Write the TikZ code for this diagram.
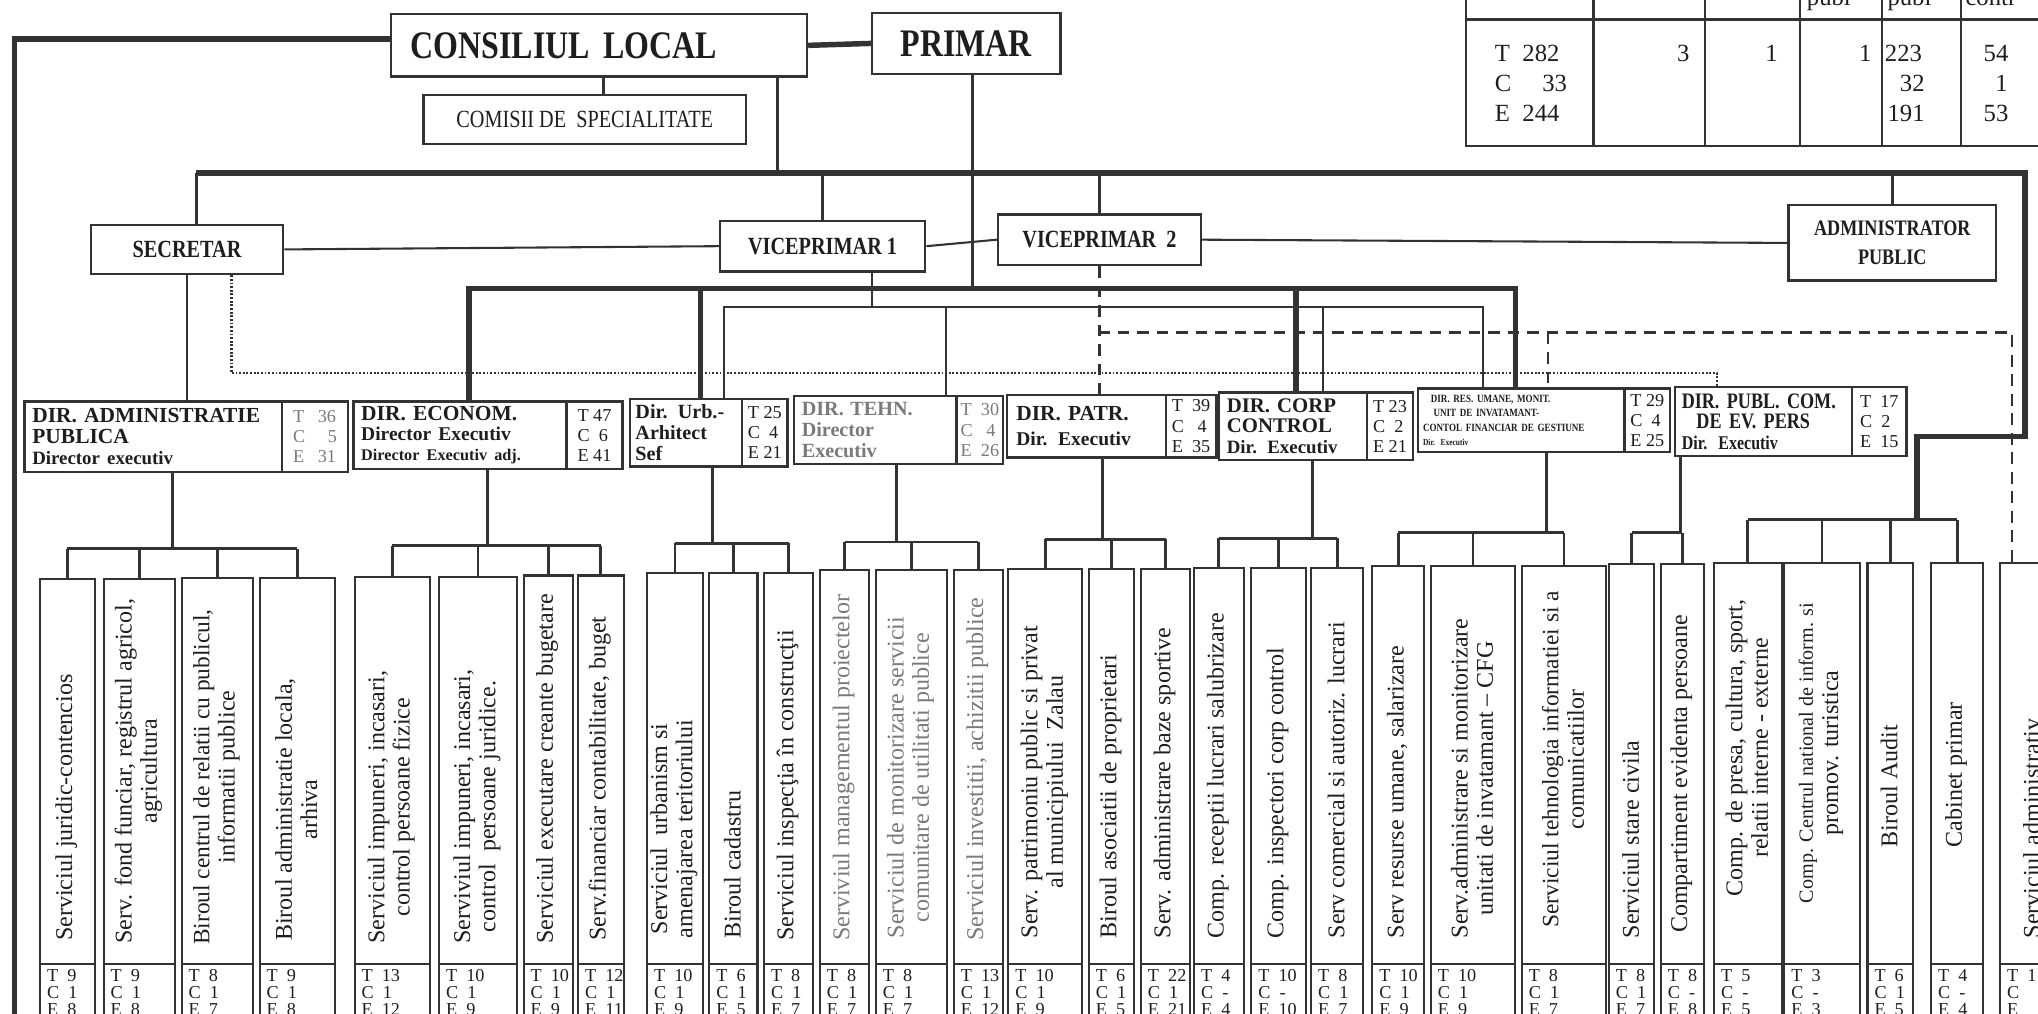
\documentclass[tikz,border=0pt]{standalone}
\usepackage{fontspec}
\setmainfont{Liberation Serif}
\newfontfamily\cnd{Liberation Serif}[FakeStretch=0.82]
\definecolor{ln}{HTML}{333333}
\definecolor{tx}{HTML}{1E1E1E}
\definecolor{gt}{HTML}{7A7A7A}
\tikzset{
 bx/.style={draw=ln, line width=1.8pt, fill=white, inner sep=0pt, text=tx},
 thk/.style={draw=ln, line width=4.2pt},
 med/.style={draw=ln, line width=2.2pt},
 thn/.style={draw=ln, line width=1.6pt},
 dsh/.style={draw=ln, line width=2pt, dash pattern=on 9pt off 6pt},
 dtt/.style={draw=ln, line width=2.2pt, dash pattern=on 1.4pt off 1.4pt},
 tln/.style={draw=ln, line width=1.6pt},
 svcbox/.style={draw=ln, line width=1.6pt, inner sep=0pt},
 svct/.style={text=tx, font=\fontsize{18.5}{19.5}\selectfont, align=center, inner sep=0pt},
 svcs/.style={text=tx, font=\fontsize{14}{13}\selectfont, align=left, inner sep=0pt},
 dtitle/.style={bx, anchor=north west, align=left, inner xsep=6pt},
 dstat/.style={bx, anchor=north west, align=left, inner xsep=4pt, font=\fontsize{14}{15.5}\selectfont},
 tcell/.style={text=tx, font=\fontsize{19}{19}\selectfont, inner sep=0pt},
}
% name, x, width, top, text, T, C, E, text bottom y
\newcommand\svc[9]{%
 \node[svcbox, anchor=north west, minimum width=#3pt, minimum height={800pt-#4pt}] (#1) at (#2,#4) {};
 \coordinate (#1d) at (#2,742);
 \draw[svcbox] (#1d) -- (#1d -| #1.east);
 \node[svct, rotate=90, anchor=west] (#1t) at ({#2+#3/2},#9) {#5};
 \node[svcs, anchor=north west] (#1s) at ({#2+6},746) {T\ \ #6\\C\ \ #7\\E\ \ #8};
}
\begin{document}
\begin{tikzpicture}[x=1pt,y=-1pt]
\useasboundingbox (0,0) rectangle (1568,779.4);
\clip (0,0) rectangle (1568,779.4);

% ---------- table top right ----------
\draw[tln] (1128,-5) -- (1128,112) -- (1575,112);
\foreach \x in {1226,1312,1385,1448,1509} \draw[tln] (\x,-5) -- (\x,112);
\draw[tln, line width=2.6pt] (1128,15) -- (1575,15);
\node[tcell, anchor=base west] (h4) at (1390,4) {publ};
\node[tcell, anchor=base west] (h5) at (1452,4) {publ};
\node[tcell, anchor=base west] (h6) at (1512,4) {contr};
\node[tcell, anchor=west] (r1) at (1150,41) {T\ \ 282};
\node[tcell, anchor=west] (r2) at (1150,64) {C\ \ \ \ \ 33};
\node[tcell, anchor=west] (r3) at (1150,87) {E\ \ 244};
\node[tcell, anchor=east] (v2) at (1300,41) {3};
\node[tcell, anchor=east] (v3) at (1368,41) {1};
\node[tcell, anchor=east] (v4) at (1440,41) {1};
\node[tcell, anchor=west] (v5a) at (1450,41) {223};
\node[tcell, anchor=east] (v5b) at (1481,64) {32};
\node[tcell, anchor=east] (v5c) at (1481,87) {191};
\node[tcell, anchor=west] (v6a) at (1526,41) {54};
\node[tcell, anchor=west] (v6b) at (1535,64) {1};
\node[tcell, anchor=west] (v6c) at (1526,87) {53};

% ---------- top boxes ----------
\node[bx, anchor=north west, minimum width=320pt, minimum height=48pt, text width=290pt, inner xsep=15pt, align=left,
 font=\cnd\bfseries\fontsize{30}{30}\selectfont] (cl) at (300,10) {CONSILIUL LOCAL};
\node[bx, anchor=north west, minimum width=145pt, minimum height=47pt,
 font=\cnd\bfseries\fontsize{30}{30}\selectfont] (pr) at (670,9) {PRIMAR};
\node[bx, anchor=north west, minimum width=248pt, minimum height=38pt,
 font=\cnd\fontsize{19}{19}\selectfont] (com) at (325,72) {COMISII DE\ \ SPECIALITATE};
\node[bx, anchor=north west, minimum width=148pt, minimum height=38pt,
 font=\cnd\bfseries\fontsize{19}{19}\selectfont] (sec) at (69,172) {SECRETAR};
\node[bx, anchor=north west, minimum width=158pt, minimum height=39pt,
 font=\cnd\bfseries\fontsize{19}{19}\selectfont] (vp1) at (553,169) {VICEPRIMAR 1};
\node[bx, anchor=north west, minimum width=156pt, minimum height=39pt,
 font=\cnd\bfseries\fontsize{19}{19}\selectfont] (vp2) at (767,164) {VICEPRIMAR\ \ 2};
\node[bx, anchor=north west, minimum width=160pt, minimum height=58pt, align=center,
 font=\cnd\bfseries\fontsize{17}{22}\selectfont] (adm) at (1375,157) {ADMINISTRATOR\\PUBLIC};

% ---------- directorates ----------
\node[dtitle, minimum width=198pt, minimum height=54pt, text width=186pt,
 font=\bfseries\fontsize{16.5}{16}\selectfont] (d1) at (18,308)
 {DIR. ADMINISTRATIE\\PUBLICA\\\fontsize{14.5}{16}\selectfont Director executiv};
\node[dstat, minimum width=51pt, minimum height=54pt, text=gt] (d1s) at (216,308) {T\ \ \ 36\\C\ \ \ \ \ 5\\E\ \ \ 31};

\node[dtitle, minimum width=164pt, minimum height=52pt, text width=152pt,
 font=\bfseries\fontsize{16.5}{15.5}\selectfont] (d2) at (271,308)
 {DIR. ECONOM.\\\fontsize{15}{15.5}\selectfont Director Executiv\\\fontsize{12.5}{15.5}\selectfont Director Executiv adj.};
\node[dstat, minimum width=43pt, minimum height=52pt] (d2s) at (435,308) {T\ 47\\C\ \ 6\\E\ 41};

\node[dtitle, minimum width=86pt, minimum height=52pt, text width=78pt, inner xsep=4pt,
 font=\bfseries\fontsize{15.5}{16}\selectfont] (d3) at (484,306)
 {Dir. Urb.-\\Arhitect\\Sef};
\node[dstat, minimum width=35pt, minimum height=52pt, inner xsep=2pt] (d3s) at (570,306) {T 25\\C\ \ 4\\E 21};

\node[dtitle, minimum width=125pt, minimum height=52pt, text width=113pt, text=gt,
 font=\bfseries\fontsize{15.5}{16}\selectfont] (d4) at (610,304)
 {DIR. TEHN.\\Director\\Executiv};
\node[dstat, minimum width=36pt, minimum height=52pt, inner xsep=2pt, text=gt] (d4s) at (735,304) {T\ \ 30\\C\ \ \ 4\\E\ \ 26};

\node[dtitle, minimum width=122pt, minimum height=48pt, text width=108pt, inner xsep=7pt,
 font=\bfseries\fontsize{16.5}{19}\selectfont] (d5) at (774,303)
 {DIR. PATR.\\\fontsize{15}{19}\selectfont Dir. Executiv};
\node[dstat, minimum width=39pt, minimum height=48pt] (d5s) at (896,303) {T\ \ 39\\C\ \ \ 4\\E\ \ 35};

\node[dtitle, minimum width=114pt, minimum height=52pt, text width=102pt,
 font=\bfseries\fontsize{16}{16}\selectfont] (d6) at (937,301)
 {DIR. CORP\\CONTROL\\\fontsize{14.5}{16}\selectfont Dir. Executiv};
\node[dstat, minimum width=35pt, minimum height=52pt, inner xsep=2pt] (d6s) at (1051,301) {T 23\\C\ \ 2\\E 21};

\node[dtitle, minimum width=159pt, minimum height=49pt, text width=151pt, inner xsep=4pt,
 font=\cnd\bfseries\fontsize{8.5}{11}\selectfont] (d7) at (1090,298)
 {\hspace*{6pt}DIR. RES. UMANE, MONIT.\\\hspace*{8pt}UNIT DE INVATAMANT-\\CONTOL FINANCIAR DE GESTIUNE\\\fontsize{7}{11}\selectfont Dir. Executiv};
\node[dstat, minimum width=35pt, minimum height=49pt, inner xsep=2pt] (d7s) at (1249,298) {T 29\\C\ \ 4\\E 25};

\node[dtitle, minimum width=136pt, minimum height=53pt, text width=126pt, inner xsep=5pt,
 font=\cnd\bfseries\fontsize{17}{16}\selectfont] (d8) at (1288,297)
 {DIR. PUBL. COM.\\\ \ DE EV. PERS\\\fontsize{15}{16}\selectfont Dir. Executiv};
\node[dstat, minimum width=42pt, minimum height=53pt, inner xsep=3pt] (d8s) at (1424,297) {T\ \ 17\\C\ \ 2\\E\ \ 15};

% ---------- services ----------
\svc{c1}{30}{42}{445}{Serviciul juridic-contencios}{9}{1}{8}{724}
\svc{c2}{79}{55}{445}{Serv. fond funciar, registrul agricol,\\agricultura}{9}{1}{8}{726}
\svc{c3}{139}{55}{444}{\fontsize{18}{19.5}\selectfont Biroul centrul de relatii cu publicul,\\informatii publice}{8}{1}{7}{727}
\svc{c4}{199}{58}{444}{Biroul administratie locala,\\arhiva}{9}{1}{8}{724}
\svc{c5}{272}{58}{443}{Serviciul impuneri, incasari,\\control persoane fizice}{13}{1}{12}{726}
\svc{c6}{337}{60}{443}{Serviviul impuneri, incasari,\\control\ \ persoane juridice.}{10}{1}{9}{726}
\svc{c7}{402}{38}{442}{Serviciul executare creante bugetare}{10}{1}{9}{726}
\svc{c8}{444}{35}{442}{Serv.financiar contabilitate, buget}{12}{1}{11}{724}
\svc{c9}{497}{43}{440}{Serviciul\ \ urbanism si\\amenajarea teritoriului}{10}{1}{9}{722}
\svc{c10}{545}{37}{440}{Biroul cadastru}{6}{1}{5}{722}
\svc{c11}{587}{38}{440}{Serviciul inspecţia în construcţii}{8}{1}{7}{724}
\svc{c12}{630}{38}{438}{\color{gt}Serviviul managementul proiectelor}{8}{1}{7}{724}
\svc{c13}{673}{55}{438}{\color{gt}Serviciul de monitorizare servicii\\\color{gt}comunitare de utilitati publice}{8}{1}{7}{722}
\svc{c14}{733}{38}{438}{\color{gt}Serviciul investitii, achizitii publice}{13}{1}{12}{724}
\svc{c15}{775}{57}{437}{Serv. patrimoniu public si privat\\al municipiului\ \ Zalau}{10}{1}{9}{722}
\svc{c16}{837}{35}{437}{Biroul asociatii de proprietari}{6}{1}{5}{722}
\svc{c17}{877}{38}{437}{Serv. administrare baze sportive}{22}{1}{21}{722}
\svc{c18}{918}{38}{436}{Comp. receptii lucrari salubrizare}{4}{-}{4}{722}
\svc{c19}{962}{42}{436}{Comp. inspectori corp control}{10}{-}{10}{722}
\svc{c20}{1008}{40}{436}{Serv comercial si autoriz. lucrari}{8}{1}{7}{722}
\svc{c21}{1055}{40}{435}{Serv resurse umane, salarizare}{10}{1}{9}{722}
\svc{c22}{1100}{65}{435}{Serv.administrare si monitorizare\\unitati de invatamant -- CFG}{10}{1}{9}{722}
\svc{c23}{1170}{65}{435}{\fontsize{18}{19}\selectfont Serviciul tehnologia informatiei si a\\comunicatiilor}{8}{1}{7}{714}
\svc{c24}{1237}{35}{433}{Serviciul stare civila}{8}{1}{7}{722}
\svc{c25}{1277}{33}{433}{Compartiment evidenta persoane}{8}{-}{8}{718}
\svc{c26}{1318}{52}{432}{Comp. de presa, cultura, sport,\\relatii interne - externe}{5}{-}{5}{690}
\svc{c27}{1372}{58}{432}{\fontsize{15.5}{17}\selectfont Comp. Centrul national de inform. si\\promov. turistica}{3}{-}{3}{695}
\svc{c28}{1436}{35}{432}{Biroul Audit}{6}{1}{5}{652}
\svc{c29}{1485}{40}{432}{Cabinet primar}{4}{-}{4}{652}
\svc{c30}{1538}{50}{432}{Serviciul administrativ}{1}{}{}{722}

% ---------- connectors: top ----------
\coordinate (lt) at (11,30);
\coordinate (lbot) at (11,800);
\draw[thk] (cl.west |- lt) -- (lt) -- (lbot);
\draw[thk] (cl.east) -- (pr.west);
\coordinate (tb1) at (151,133);
\coordinate (tb2) at (1558,133);
\coordinate (rt1) at (1558,336);
\coordinate (rt2) at (1475,336);
\coordinate (g9) at (1475,400);
\draw[thk] (tb1) -- (tb2) -- (rt1) -- (rt2) -- (g9);
\coordinate (clx) at (598,0);
\draw[med] (cl.south -| clx) -- (tb1 -| clx);
\coordinate (cmx) at (464,0);
\draw[med] (cl.south -| cmx) -- (com.north -| cmx);
\draw[med] (tb1) -- (tb1 |- sec.north);
\draw[med] (vp1.north) -- (vp1.north |- tb1);
\draw[med] (vp2.north) -- (vp2.north |- tb1);
\draw[med] (adm.north) -- (adm.north |- tb1);
\draw[thn] (sec.east) -- (vp1.west);
\draw[thn] (vp1.east) -- (vp2.west);
\draw[thn] (vp2.east) -- (adm.west);

% ---------- PRIMAR thick bus ----------
\coordinate (prx) at (748,0);
\coordinate (db1) at (361,222);
\coordinate (db2) at (1166,222);
\coordinate (dbu) at (539,222);
\coordinate (dbc) at (997,222);
\draw[med] (pr.south -| prx) -- (prx |- db1);
\draw[thk] (db1 |- d2.north) -- (db1) -- (db2) -- (db2 |- d7.north);
\draw[thk] (dbu) -- (dbu |- d3.north);
\draw[thk] (dbc) -- (dbc |- d6.north);

% ---------- VICEPRIMAR 1 thin bus ----------
\coordinate (vb1) at (557,236);
\coordinate (vb2) at (1141,236);
\coordinate (vbv) at (671,236);
\coordinate (vbt) at (728,236);
\coordinate (vbc) at (1018,236);
\draw[thn] (vbv |- vp1.south) -- (vbv);
\draw[thn] (vb1 |- d3.north) -- (vb1) -- (vb2) -- (vb2 |- d7.north);
\draw[thn] (vbt) -- (vbt |- d4.north);
\draw[thn] (vbc) -- (vbc |- d6.north);

% ---------- VICEPRIMAR 2 dashed ----------
\coordinate (ds1) at (845,256);
\coordinate (ds2) at (1548,256);
\coordinate (dsr) at (1191,256);
\draw[dsh] (vp2.south) -- (vp2.south |- d5.north);
\draw[dsh] (ds1) -- (ds2) -- (ds2 |- c30.north);
\draw[dsh] (dsr) -- (dsr |- d7.north);

% ---------- SECRETAR dotted ----------
\coordinate (dt1) at (178,287);
\coordinate (dt2) at (1321,287);
\draw[dtt] (dt1 |- sec.south) -- (dt1) -- (dt2) -- (dt2 |- d8.north);
\draw[med] (sec.south) -- (sec.south |- d1.north);

% ---------- group brackets ----------
\coordinate (g1) at (133,422);
\coordinate (g2) at (375,420);
\coordinate (g3) at (548,418);
\coordinate (g4) at (690,417);
\coordinate (g5) at (848,415);
\coordinate (g6) at (1010,414);
\coordinate (g7) at (1190,410);
\coordinate (g8) at (1293,410);
\draw[med] (g1 |- d1.south) -- (g1);
\draw[med] (g2 |- d2.south) -- (g2);
\draw[med] (g3 |- d3.south) -- (g3);
\draw[med] (g4 |- d4.south) -- (g4);
\draw[med] (g5 |- d5.south) -- (g5);
\draw[med] (g6 |- d6.south) -- (g6);
\draw[med] (g7 |- d7.south) -- (g7);
\draw[med] (g8 |- d8.south) -- (g8);
\foreach \g/\a/\b in {g1/c1/c4, g2/c5/c8, g3/c9/c11, g4/c12/c14, g5/c15/c17, g6/c18/c20, g7/c21/c23, g8/c24/c25, g9/c26/c29}
 \draw[med] (\a.north |- \g) -- (\b.north |- \g);
\foreach \g/\c in {g1/c1, g1/c2, g1/c3, g1/c4, g2/c5, g2/c6, g2/c7, g2/c8, g3/c9, g3/c10, g3/c11,
 g4/c12, g4/c13, g4/c14, g5/c15, g5/c16, g5/c17, g6/c18, g6/c19, g6/c20, g7/c21, g7/c22, g7/c23,
 g8/c24, g8/c25, g9/c26, g9/c27, g9/c28, g9/c29}
 \draw[med] (\c.north |- \g) -- (\c.north);
\end{tikzpicture}
\end{document}
